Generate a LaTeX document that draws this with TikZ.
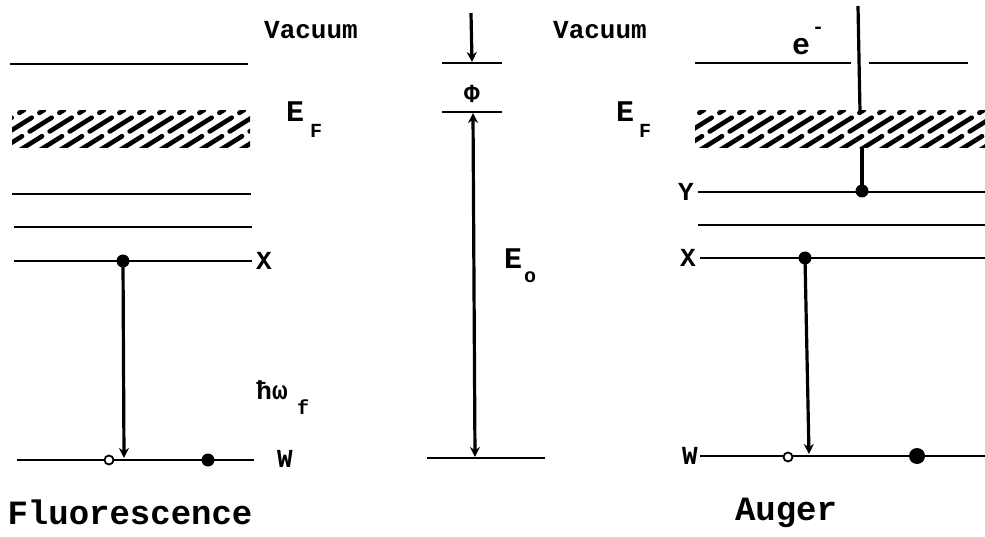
\documentclass[tikz,border=0pt]{standalone}
\usepackage{fontspec}
\setmonofont{Liberation Mono}
\usetikzlibrary{arrows.meta}
\begin{document}
\begin{tikzpicture}[x=1pt,y=-1pt,
  lvl/.style={line width=2.8pt},
  trans/.style={line width=3.2pt},
  hatchstroke/.style={line width=4.6pt, line cap=round, dash pattern=on 26pt off 9pt},
  tip/.style={-{Stealth[length=10pt,width=10pt]}},
  lbl/.style={font=\ttfamily\bfseries\fontsize{26}{26}\selectfont, inner sep=0pt},
  biglbl/.style={font=\ttfamily\bfseries\fontsize{30}{30}\selectfont, inner sep=0pt},
  big/.style={font=\ttfamily\bfseries\fontsize{34}{34}\selectfont, inner sep=0pt},
  sub/.style={font=\ttfamily\bfseries\fontsize{20}{20}\selectfont, inner sep=0pt},
  fdot/.style={circle, fill=black, inner sep=0pt, minimum size=13pt},
  odot/.style={circle, draw=black, line width=1.8pt, fill=white, inner sep=0pt, minimum size=9pt}]
\useasboundingbox (0,0) rectangle (985,537);

% ---------- Fluorescence ----------
\draw[lvl] (10,64) -- (248,64);
\begin{scope}
  \clip (12,111) rectangle (250,148);
  \foreach \x in {-60,-40,...,240} \draw[hatchstroke] (\x,150) -- (\x+64,110);
\end{scope}
\draw[lvl] (12,194) -- (251,194);
\draw[lvl] (14,227) -- (252,227);
\draw[lvl] (14,261) -- (252,261);
\draw[lvl] (17,460) -- (254,460);
\node[lbl] (fX) at (264,261) {X};
\node[lbl] (fW) at (285,459) {W};
\node[fdot] (fxd) at (123,261) {};
\node[odot] (fwo) at (109,460) {};
\node[fdot] (fwd) at (208,460) {};
\coordinate (fwarr) at (124,458);
\draw[trans,tip] (fxd.center) -- (fwarr);
\node[lbl] (hw) at (272,390) {ħω};
\node[sub] (hwf) at (303,407) {f};
\node[big] (fl) at (130,512) {Fluorescence};
\node[lbl] (vac1) at (311,30) {Vacuum};
\node[biglbl] (ef1) at (295,112) {E};
\node[sub] (ef1s) at (316,131) {F};

% ---------- middle ----------
\draw[lvl] (442,63) -- (502,63);
\draw[lvl] (442,112) -- (502,112);
\draw[lvl] (427,458) -- (545,458);
\coordinate (vtop) at (471,13);
\coordinate (vbot) at (472,62);
\draw[trans,tip] (vtop) -- (vbot);
\node[lbl] (phi) at (472,94) {Φ};
\coordinate (e0top) at (473,113);
\coordinate (e0bot) at (475,457);
\draw[trans,{Stealth[length=10pt,width=10pt]}-{Stealth[length=10pt,width=10pt]}] (e0top) -- (e0bot);
\node[biglbl] (e0) at (513,259) {E};
\node[sub] (e0s) at (530,277) {o};
\node[lbl] (vac2) at (600,30) {Vacuum};
\node[biglbl] (ef2) at (625,112) {E};
\node[sub] (ef2s) at (645,131) {F};

% ---------- Auger ----------
\draw[lvl] (695,63) -- (851,63);
\draw[lvl] (869,63) -- (968,63);
\begin{scope}
  \clip (695,111) rectangle (990,148);
  \foreach \x in {640,660,...,985} \draw[hatchstroke] (\x,150) -- (\x+64,110);
\end{scope}
\draw[lvl] (698,192) -- (985,192);
\draw[lvl] (698,225) -- (985,225);
\draw[lvl] (700,258) -- (985,258);
\draw[lvl] (700,456) -- (985,456);
\node[lbl] (aY) at (686,192) {Y};
\node[lbl] (aX) at (688,258) {X};
\node[lbl] (aW) at (690,456) {W};
\node[fdot] (ayd) at (862,191) {};
\coordinate (hb) at (862,147);
\coordinate (ht) at (860,112);
\coordinate (etop) at (858,6);
\draw[trans] (ayd.center) -- (hb);
\draw[trans] (ht) -- (etop);
\node[biglbl] (em) at (801,47) {e};
\node[sub] (ems) at (818,30) {-};
\node[fdot] (axd) at (805,258) {};
\coordinate (awarr) at (809,454);
\draw[trans,tip] (axd.center) -- (awarr);
\node[odot] (awo) at (788,457) {};
\node[fdot, minimum size=16pt] (awd) at (917,456) {};
\node[big] (au) at (786,513) {Auger};
\end{tikzpicture}
\end{document}
